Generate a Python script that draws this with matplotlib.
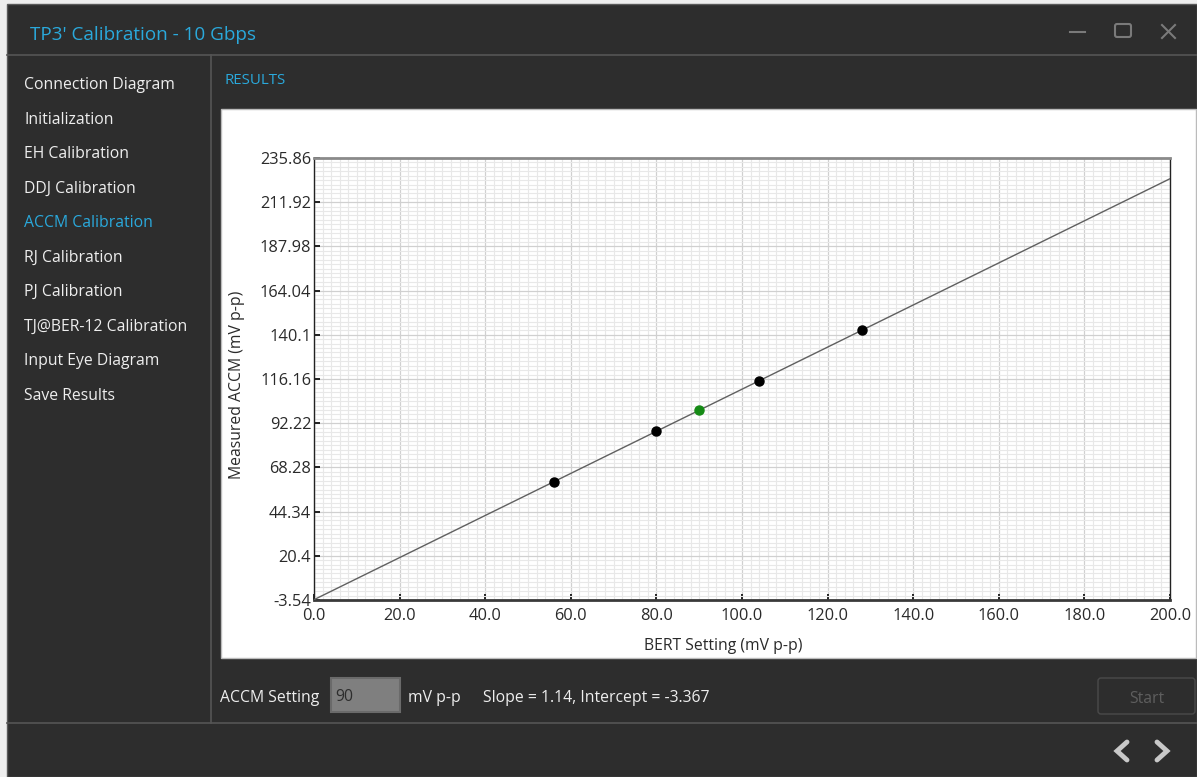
import matplotlib
matplotlib.use("Agg")
import matplotlib.pyplot as plt
from matplotlib.patches import Rectangle, FancyBboxPatch
from matplotlib.ticker import MultipleLocator, FixedLocator
import numpy as np

plt.rcParams['font.family'] = ['Open Sans', 'DejaVu Sans']

# ---------------- data ----------------
title = "TP3' Calibration - 10 Gbps"
menu_items = ["Connection Diagram", "Initialization", "EH Calibration", "DDJ Calibration",
              "ACCM Calibration", "RJ Calibration", "PJ Calibration", "TJ@BER-12 Calibration",
              "Input Eye Diagram", "Save Results"]
active_item = "ACCM Calibration"

bert_setting = [56.0, 80.0, 104.0, 128.0]
measured_accm = [60.5, 87.8, 115.2, 142.6]
current_setting_x = [90.0]
current_setting_y = [99.2]
slope = 1.14
intercept = -3.367
fit_x = [0.0, 200.0]

x_ticks = [0.0, 20.0, 40.0, 60.0, 80.0, 100.0, 120.0, 140.0, 160.0, 180.0, 200.0]
y_ticks = [-3.54, 20.4, 44.34, 68.28, 92.22, 116.16, 140.1, 164.04, 187.98, 211.92, 235.86]
y_tick_labels = ["-3.54", "20.4", "44.34", "68.28", "92.22", "116.16", "140.1",
                 "164.04", "187.98", "211.92", "235.86"]
accm_setting = "90"

# ---------------- figure ----------------
W, H = 1197, 777
fig = plt.figure(figsize=(W / 100, H / 100), dpi=100)
fig.patch.set_facecolor('#eeeeee')

bg = fig.add_axes([0, 0, 1, 1])
bg.set_xlim(0, W)
bg.set_ylim(H, 0)
bg.axis('off')

DARK = '#2d2d2d'
SEP = '#555555'
CYAN = '#2aa9dc'
TXT = '#eeeeee'

# window
bg.add_patch(Rectangle((7, 4), W - 7, H - 4, facecolor=DARK, edgecolor='#5a5a5a', lw=1))
# separators
bg.plot([7, W], [55, 55], color=SEP, lw=1.2)
bg.plot([211, 211], [55, 723], color=SEP, lw=1.2)
bg.plot([7, W], [723, 723], color=SEP, lw=1.2)

# title
bg.text(30, 35, title, color=CYAN, fontsize=13.6, va='center', ha='left')
# window controls
ctl = '#7a7a7a'
bg.plot([1070, 1085], [32, 32], color=ctl, lw=1.5)
bg.add_patch(FancyBboxPatch((1115, 24), 16, 13, boxstyle="round,pad=0,rounding_size=2",
                            facecolor='none', edgecolor=ctl, lw=1.5))
bg.plot([1162, 1175], [25, 38], color=ctl, lw=1.5)
bg.plot([1162, 1175], [38, 25], color=ctl, lw=1.5)

# menu
menu_y0, menu_dy = 85, 34.55
for i, item in enumerate(menu_items):
    bg.text(24, menu_y0 + i * menu_dy, item, color=(CYAN if item == active_item else TXT),
            fontsize=11.3, va='center', ha='left')

bg.text(224, 81, "RESULTS", color=CYAN, fontsize=10.8, va='center', ha='left')

# white chart panel
bg.add_patch(Rectangle((221, 109), 975, 549, facecolor='white', edgecolor='#bbbbbb', lw=1))

# bottom controls
bg.text(220, 698, "ACCM Setting", color=TXT, fontsize=11.3, va='center', ha='left')
bg.add_patch(Rectangle((331, 678), 69, 34, facecolor='#7f7f7f', edgecolor='#6a6a6a', lw=1.5))
bg.text(335, 697, accm_setting, color='#2d2d2d', fontsize=11.3, va='center', ha='left')
bg.text(408, 698, "mV p-p", color=TXT, fontsize=11.3, va='center', ha='left')
bg.text(483, 698, f"Slope = {slope}, Intercept = {intercept}", color=TXT, fontsize=11.3,
        va='center', ha='left')
bg.add_patch(FancyBboxPatch((1098, 678), 97, 36, boxstyle="round,pad=0,rounding_size=3",
                            facecolor='none', edgecolor='#4a4a4a', lw=1))
bg.text(1147, 699, "Start", color='#5e5e5e', fontsize=11.3, va='center', ha='center')

# nav arrows
arr = '#c8c8c8'
bg.plot([1127, 1117, 1127], [742, 751, 760], color=arr, lw=3.5, solid_capstyle='round',
        solid_joinstyle='miter')
bg.plot([1157, 1167, 1157], [742, 751, 760], color=arr, lw=3.5, solid_capstyle='round',
        solid_joinstyle='miter')

# ---------------- chart ----------------
L, R, T, B = 314, 1170, 158, 600
ax = fig.add_axes([L / W, 1 - B / H, (R - L) / W, (B - T) / H])
ax.set_facecolor('white')
ax.set_xlim(0, 200)
ax.set_ylim(y_ticks[0], y_ticks[-1])

ax.xaxis.set_major_locator(FixedLocator(x_ticks))
ax.xaxis.set_minor_locator(MultipleLocator(2.0))
ax.yaxis.set_major_locator(FixedLocator(y_ticks))
ax.yaxis.set_minor_locator(FixedLocator(list(np.arange(y_ticks[0], y_ticks[-1] + 0.01, 2.394))))
ax.set_xticklabels([f"{v:.1f}" for v in x_ticks])
ax.set_yticklabels(y_tick_labels)

ax.grid(which='minor', color='#e8e8e8', lw=0.8, zorder=0)
ax.grid(which='major', color='#d0d0d0', lw=0.9, zorder=0)
ax.set_axisbelow(True)

ax.tick_params(which='major', direction='in', length=4.5, width=1.4, color='#222222',
               labelsize=11.8, labelcolor='#2a2a2a')
ax.tick_params(axis='x', which='major', pad=5.5)
ax.tick_params(axis='y', which='major', pad=2)
ax.tick_params(which='minor', length=0)

for s in ['left', 'right']:
    ax.spines[s].set_color('#222222')
    ax.spines[s].set_linestyle((0, (2, 1)))
    ax.spines[s].set_linewidth(1)
ax.spines['top'].set_color('#8a8a8a')
ax.spines['top'].set_linewidth(2)
ax.spines['bottom'].set_color('#3a3a3a')
ax.spines['bottom'].set_linewidth(2)

fit_y = [slope * x + intercept for x in fit_x]
ax.plot(fit_x, fit_y, color='#606060', lw=1, zorder=3, clip_on=True)
ax.plot(bert_setting, measured_accm, 'o', color='black', ms=6.5, zorder=4)
ax.plot(current_setting_x, current_setting_y, 'o', color='#158a15', ms=6.5, zorder=4)

ax.set_xlabel("BERT Setting (mV p-p)", fontsize=11.3, color='#2a2a2a')
ax.set_ylabel("Measured ACCM (mV p-p)", fontsize=11.3, color='#2a2a2a')
ax.xaxis.set_label_coords((723 - L) / (R - L), -(638 - B) / (B - T))
ax.yaxis.set_label_coords((245 - L) / (R - L), (B - 385) / (B - T))

fig.savefig("out.png", dpi=100, facecolor=fig.get_facecolor())
